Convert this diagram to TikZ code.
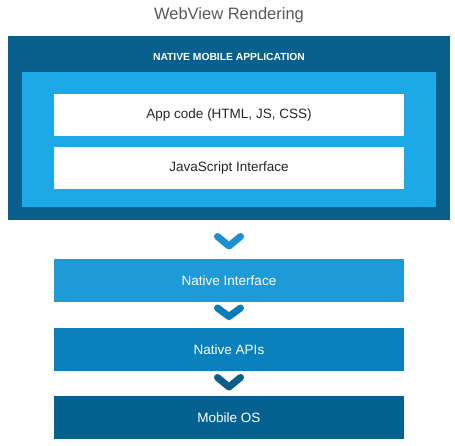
\documentclass[tikz,border=0pt]{standalone}
\usepackage{fontspec}
\setmainfont{Liberation Sans}
\definecolor{darkblue}{HTML}{09608D}
\definecolor{lightblue}{HTML}{1DA8E7}
\definecolor{nifill}{HTML}{1E9BD7}
\definecolor{apifill}{HTML}{0A81BD}
\definecolor{osfill}{HTML}{05618F}
\definecolor{chev1}{HTML}{1E8FD0}
\definecolor{chev2}{HTML}{0A7DB7}
\definecolor{chev3}{HTML}{0A5E8A}
\definecolor{titlegray}{HTML}{595959}
\begin{document}
\begin{tikzpicture}[x=1pt,y=-1pt,
  layerbox/.style={minimum width=350pt,minimum height=43pt,inner sep=0pt,text=white,font=\fontsize{13.5}{16}\selectfont},
  whitebox/.style={fill=white,minimum width=350pt,minimum height=42pt,inner sep=0pt,text=black!85,font=\fontsize{13.5}{16}\selectfont},
  chevron/.style={line width=7pt,line cap=round,line join=round}]
\useasboundingbox (0,0) rectangle (455,446);
\fill[white] (0,0) rectangle (455,446);
\node[text=titlegray,font=\fontsize{16.5}{20}\selectfont] (title) at (229,15) {WebView Rendering};
\node[fill=darkblue,minimum width=442pt,minimum height=184pt,inner sep=0pt] (outer) at (229,128) {};
\node[text=white,font=\bfseries\fontsize{10.3}{12}\selectfont] (nma) at (229,57) {NATIVE MOBILE APPLICATION};
\node[fill=lightblue,minimum width=414pt,minimum height=135pt,inner sep=0pt] (inner) at (229,139.5) {};
\node[whitebox] (app) at (229,115) {App code (HTML, JS, CSS)};
\node[whitebox] (jsi) at (229,168) {JavaScript Interface};
\node[layerbox,fill=nifill] (ni) at (229,280.5) {Native Interface};
\node[layerbox,fill=apifill] (api) at (229,349.5) {Native APIs};
\node[layerbox,fill=osfill] (os) at (229,417.5) {Mobile OS};
\coordinate (c1a) at (217.5,236.5); \coordinate (c1b) at (229,246); \coordinate (c1c) at (240.5,236.5);
\coordinate (c2a) at (217.5,308); \coordinate (c2b) at (229,316.5); \coordinate (c2c) at (240.5,308);
\coordinate (c3a) at (217.5,377.5); \coordinate (c3b) at (229,387); \coordinate (c3c) at (240.5,377.5);
\draw[chevron,chev1] (c1a) -- (c1b) -- (c1c);
\draw[chevron,chev2] (c2a) -- (c2b) -- (c2c);
\draw[chevron,chev3] (c3a) -- (c3b) -- (c3c);
\end{tikzpicture}
\end{document}
